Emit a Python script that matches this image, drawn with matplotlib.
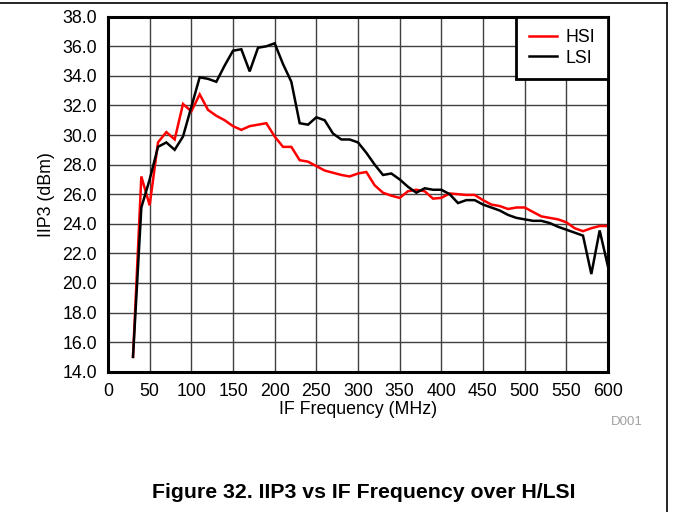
import matplotlib
matplotlib.use("Agg")
import matplotlib.pyplot as plt
from matplotlib.lines import Line2D

plt.rcParams['font.family'] = ['Liberation Sans', 'DejaVu Sans']

freq = list(range(30, 601, 10))

hsi = [15.0, 27.2, 25.25, 29.5, 30.2, 29.7, 32.1, 31.6, 32.75, 31.7,
       31.3, 31.0, 30.6, 30.35, 30.6, 30.7, 30.8, 29.9, 29.2, 29.2,
       28.3, 28.2, 27.9, 27.6, 27.45, 27.3, 27.2, 27.4, 27.5, 26.6,
       26.1, 25.9, 25.75, 26.2, 26.3, 26.2, 25.7, 25.75, 26.05, 26.0,
       25.95, 25.95, 25.6, 25.3, 25.2, 25.0, 25.1, 25.1, 24.8, 24.5,
       24.4, 24.3, 24.1, 23.7, 23.5, 23.7, 23.85, 23.85]

lsi = [15.0, 25.1, 27.0, 29.2, 29.5, 29.0, 29.9, 31.9, 33.9, 33.8,
       33.6, 34.7, 35.7, 35.8, 34.3, 35.9, 36.0, 36.2, 34.8, 33.6,
       30.8, 30.7, 31.2, 31.0, 30.1, 29.7, 29.7, 29.5, 28.8, 28.0,
       27.3, 27.4, 27.0, 26.5, 26.1, 26.4, 26.3, 26.3, 26.0, 25.4,
       25.6, 25.6, 25.3, 25.1, 24.9, 24.6, 24.4, 24.3, 24.2, 24.2,
       24.05, 23.8, 23.6, 23.4, 23.2, 20.6, 23.55, 21.1]

xticks = list(range(0, 601, 50))
yticks = [14.0 + 2 * i for i in range(13)]

W, H = 673, 512
fig = plt.figure(figsize=(W / 100, H / 100), dpi=100)
ax = fig.add_axes([108 / W, 1 - 371.7 / H, (608 - 108) / W, (371.7 - 16.7) / H])

ax.plot(freq, hsi, color='#ff0000', lw=1.8, label='HSI', solid_joinstyle='miter')
ax.plot(freq, lsi, color='#000000', lw=1.8, label='LSI', solid_joinstyle='miter')

ax.set_xlim(0, 600)
ax.set_ylim(14, 38)
ax.set_xticks(xticks)
ax.set_yticks(yticks)
ax.set_xticklabels([str(v) for v in xticks])
ax.set_yticklabels([f"{v:.1f}" for v in yticks])
ax.tick_params(length=0, labelsize=12.8, pad=8)
ax.grid(True, color='#404040', lw=1.0)
ax.set_axisbelow(True)
for s in ax.spines.values():
    s.set_linewidth(2.2)
    s.set_color('black')

ax.set_xlabel('IF Frequency (MHz)', fontsize=12.8, labelpad=1)
ax.set_ylabel('IIP3 (dBm)', fontsize=12.8, labelpad=5)

leg = ax.legend(loc='upper right', fontsize=12.8, frameon=True, fancybox=False,
                borderaxespad=0, handlelength=1.6, handletextpad=0.5,
                borderpad=0.7, labelspacing=0.2)
leg.get_frame().set_edgecolor('black')
leg.get_frame().set_linewidth(2.0)
leg.get_frame().set_alpha(1)

fig.text(627 / W, 1 - 422 / H, 'D001', color='#a0a0a0', fontsize=9.5,
         ha='center', va='center')
fig.text(363.5 / W, 1 - 493 / H, 'Figure 32. IIP3 vs IF Frequency over H/LSI',
         fontsize=15.3, fontweight='bold', ha='center', va='center')

# outer frame lines
fig.add_artist(Line2D([0, 666.5 / W], [1 - 3 / H, 1 - 3 / H], color='black', lw=1.2,
                      transform=fig.transFigure))
fig.add_artist(Line2D([666.5 / W, 666.5 / W], [1 - 3 / H, 0], color='black', lw=1.2,
                      transform=fig.transFigure))

fig.savefig('out.png', dpi=100)
